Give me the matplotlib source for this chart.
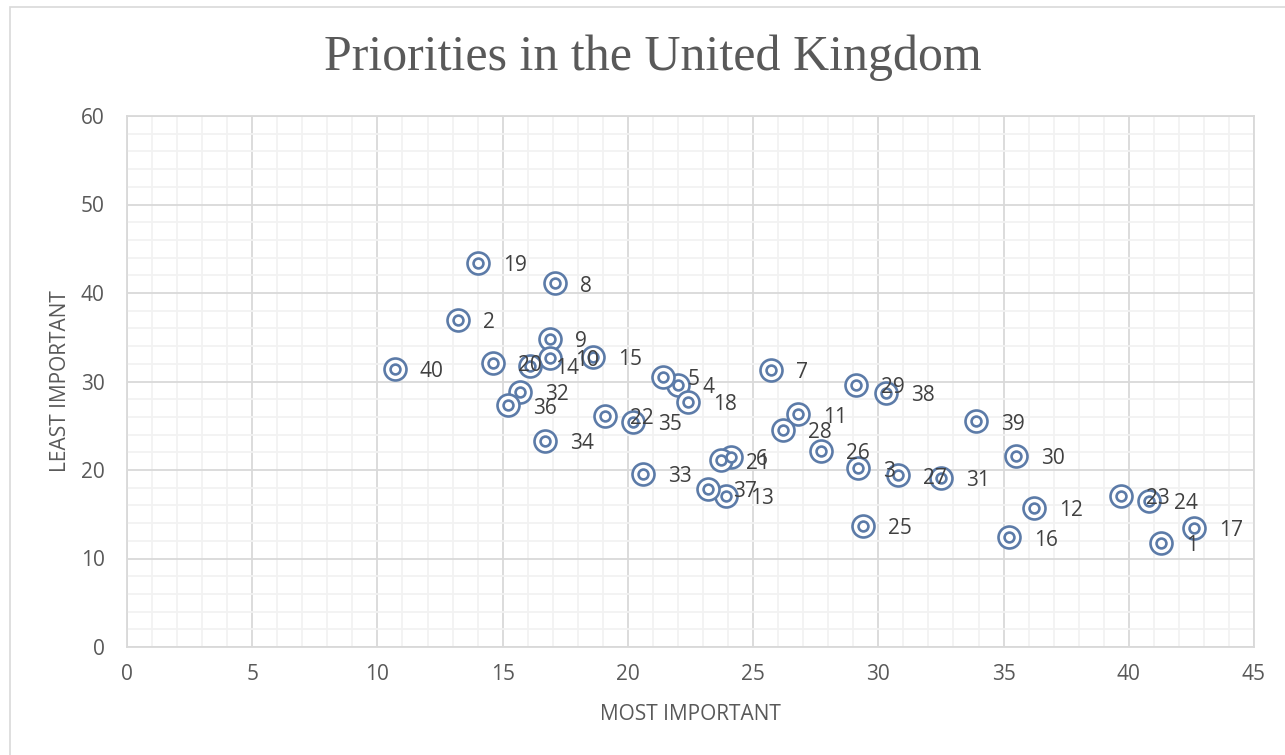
import matplotlib
matplotlib.use("Agg")
import matplotlib.pyplot as plt
from matplotlib.ticker import MultipleLocator
from matplotlib.patches import Rectangle

labels = ["1", "2", "3", "4", "5", "6", "7", "8", "9", "10",
          "11", "12", "13", "14", "15", "16", "17", "18", "19", "20",
          "21", "22", "23", "24", "25", "26", "27", "28", "29", "30",
          "31", "32", "33", "34", "35", "36", "37", "38", "39", "40"]
most_important = [41.3, 13.2, 29.2, 22.0, 21.4, 24.1, 25.7, 17.1, 16.9, 16.9,
                  26.8, 36.2, 23.9, 16.1, 18.6, 35.2, 42.6, 22.4, 14.0, 14.6,
                  23.7, 19.1, 39.7, 40.8, 29.4, 27.7, 30.8, 26.2, 29.1, 35.5,
                  32.5, 15.7, 20.6, 16.7, 20.2, 15.2, 23.2, 30.3, 33.9, 10.7]
least_important = [11.8, 37.0, 20.2, 29.6, 30.5, 21.5, 31.3, 41.1, 34.8, 32.7,
                   26.3, 15.7, 17.1, 31.8, 32.8, 12.4, 13.5, 27.7, 43.4, 32.1,
                   21.1, 26.1, 17.1, 16.5, 13.7, 22.2, 19.4, 24.5, 29.6, 21.6,
                   19.1, 28.8, 19.6, 23.3, 25.4, 27.3, 17.9, 28.7, 25.5, 31.4]

W, H = 1285, 755
fig = plt.figure(figsize=(W / 100, H / 100), dpi=100)
fig.patch.set_facecolor("white")
fig.patches.append(Rectangle((10 / W, -0.05), 1.1, 1 - 7 / H + 0.05,
                             transform=fig.transFigure, fill=False,
                             edgecolor="#D9D9D9", linewidth=1.2))

ax = fig.add_axes([127 / W, (H - 647) / H, (1254 - 127) / W, (647 - 116) / H])
ax.set_xlim(0, 45)
ax.set_ylim(0, 60)
ax.xaxis.set_major_locator(MultipleLocator(5))
ax.xaxis.set_minor_locator(MultipleLocator(1))
ax.yaxis.set_major_locator(MultipleLocator(10))
ax.yaxis.set_minor_locator(MultipleLocator(2))
ax.grid(which="minor", color="#F2F2F2", linewidth=1.3, zorder=0)
ax.grid(which="major", color="#D9D9D9", linewidth=1.3, zorder=0)
ax.set_axisbelow(True)
for s in ax.spines.values():
    s.set_color("#D9D9D9")
    s.set_linewidth(1.3)
ax.tick_params(which="both", length=0)
ax.tick_params(axis="x", pad=12, labelsize=15, labelcolor="#595959")
ax.tick_params(axis="y", pad=16, labelsize=15, labelcolor="#595959")
for t in ax.get_xticklabels() + ax.get_yticklabels():
    t.set_fontfamily("Open Sans")

col = "#5C7BA8"
ax.scatter(most_important, least_important, s=250, facecolors="white",
           edgecolors=col, linewidths=1.9, zorder=3)
ax.scatter(most_important, least_important, s=50, facecolors="white",
           edgecolors=col, linewidths=1.9, zorder=4)

for lab, x, y in zip(labels, most_important, least_important):
    ax.annotate(lab, (x, y), xytext=(18, -2), textcoords="offset points",
                ha="left", va="center", fontsize=15, color="#404040",
                family="Open Sans", zorder=5)

ax.set_xlabel("MOST IMPORTANT", fontsize=15, color="#595959",
              family="Open Sans", va="center")
ax.set_ylabel("LEAST IMPORTANT", fontsize=15, color="#595959",
              family="Open Sans", va="center")
ax.xaxis.set_label_coords(0.5, (647 - 715) / (647 - 116))
ax.yaxis.set_label_coords((60 - 127) / (1254 - 127), 0.5)
fig.text(653 / W, 1 - 58 / H, "Priorities in the United Kingdom",
         ha="center", va="center", fontsize=36, color="#595959",
         family="Liberation Serif")

fig.savefig("out.png", dpi=100)
